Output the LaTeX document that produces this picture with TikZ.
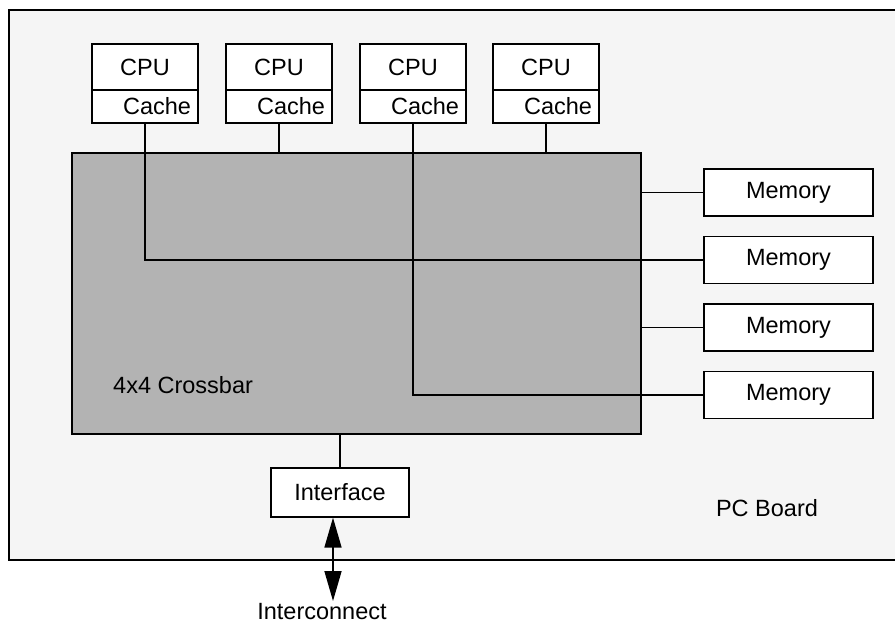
\documentclass[tikz,border=0pt]{standalone}
\usepackage{fontspec}
\setmainfont{Liberation Sans}
\usetikzlibrary{arrows.meta}
\definecolor{boardfill}{HTML}{F5F5F5}
\definecolor{xbarfill}{HTML}{B3B3B3}
\begin{document}
\begin{tikzpicture}[x=1pt,y=-1pt,
  every node/.style={font=\fontsize{23.5}{28}\selectfont},
  unitbox/.style={draw, fill=white, line width=1.3pt, inner sep=0pt, anchor=center},
  cpubox/.style={unitbox, minimum width=106pt, minimum height=46pt},
  cachebox/.style={unitbox, minimum width=106pt, minimum height=33pt},
  membox/.style={unitbox, minimum width=169pt, minimum height=47pt},
  wire/.style={line width=1.3pt}
]
\useasboundingbox (0,0) rectangle (895,624);
% PC board
\fill[boardfill] (9,10) rectangle (895,560);
\draw[line width=1.5pt] (895,10) -- (9,10) -- (9,560) -- (895,560);
\node[anchor=center] (pcb) at (767,508) {PC Board};

% crossbar
\node[draw, fill=xbarfill, line width=1.3pt, minimum width=569pt, minimum height=281pt, inner sep=0pt] (xbar) at (356.5,293.5) {};
\node[anchor=west, inner sep=0pt] (xlabel) at (113,385) {4x4 Crossbar};

% CPUs and caches
\foreach \i/\x in {1/145, 2/279, 3/413, 4/546} {
  \node[cpubox] (p\i) at (\x,67) {CPU};
  \node[cachebox] (c\i) at (\x,106.5) {\hspace{24pt}Cache};
}

% memories
\node[membox] (m1) at (788.5,192.5) {Memory};
\node[membox] (m2) at (788.5,260) {Memory};
\node[membox] (m3) at (788.5,327.5) {Memory};
\node[membox] (m4) at (788.5,395) {Memory};

% interface
\node[unitbox, minimum width=138pt, minimum height=49pt] (iface) at (340,492.5) {Interface\hspace{16pt}};
\node[anchor=center, inner sep=0pt] (icn) at (322,612) {Interconnect};
\coordinate (ictop) at (333,601);

% wires
\draw[wire] (c1.south) |- (m2.west);
\draw[wire] (c2.south) -- (c2.south |- xbar.north);
\draw[wire] (c3.south) |- (m4.west);
\draw[wire] (c4.south) -- (c4.south |- xbar.north);
\draw[wire] (m1.west) -- (m1.west -| xbar.east);
\draw[wire] (m3.west) -- (m3.west -| xbar.east);
\draw[wire] (iface.north |- xbar.south) -- (iface.north);
\draw[line width=1.6pt, {Triangle[length=30pt,width=17pt]}-{Triangle[length=30pt,width=17pt]}] (iface.south -| ictop) -- (ictop);
\end{tikzpicture}
\end{document}
